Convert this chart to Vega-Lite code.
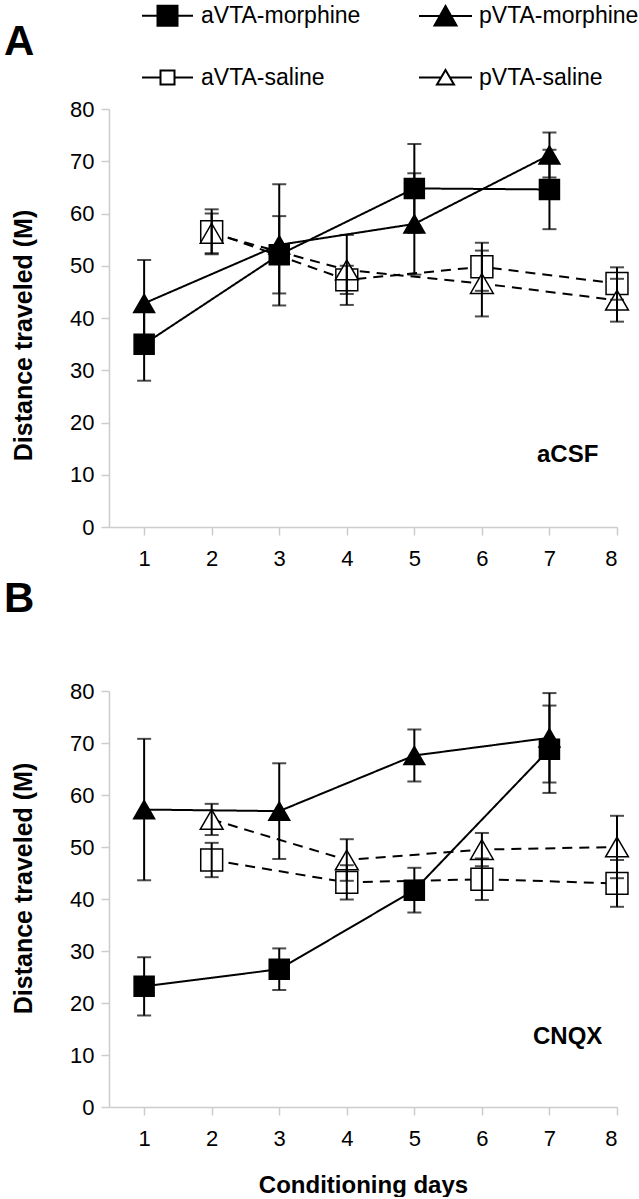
{
  "$schema": "https://vega.github.io/schema/vega-lite/v6.json",
  "background": "white",
  "padding": {"left": 4, "top": 4, "right": 0, "bottom": 0},
  "config": {
    "font": "Liberation Sans",
    "view": {"stroke": null},
    "axis": {
      "grid": false,
      "domainColor": "#cccccc",
      "domainWidth": 1.5,
      "tickColor": "#cccccc",
      "tickWidth": 1.5,
      "tickSize": 8,
      "labelFont": "Liberation Sans",
      "labelFontSize": 22,
      "labelColor": "black",
      "titleFont": "Liberation Sans",
      "titleFontWeight": "bold",
      "titleColor": "black"
    },
    "axisX": {"labelPadding": 13, "titleFontSize": 24, "titlePadding": 24, "format": "d"},
    "axisY": {"labelPadding": 7, "titleFontSize": 25, "titlePadding": 33},
    "legend": {"orient": "none", "legendX": 47, "legendY": -105, "columns": 2, "title": null, "labelFont": "Liberation Sans", "labelFontSize": 23, "labelColor": "black", "labelOffset": 22, "columnPadding": 54, "rowPadding": 36, "symbolStrokeColor": "black", "symbolStrokeWidth": 2, "symbolSize": 400, "symbolOpacity": 1, "labelLimit": 400},
    "title": {"font": "Liberation Sans", "fontSize": 42, "fontWeight": "bold", "color": "black", "anchor": "start", "frame": "group", "baseline": "alphabetic"}
  },
  "datasets": {
    "pts": [
      {"panel": "A", "series": "aVTA-morphine", "day": 1, "mean": 35.0, "err": 7.0},
      {"panel": "A", "series": "aVTA-morphine", "day": 3, "mean": 52.1, "err": 7.4},
      {"panel": "A", "series": "aVTA-morphine", "day": 5, "mean": 64.8, "err": 8.5},
      {"panel": "A", "series": "aVTA-morphine", "day": 7, "mean": 64.6, "err": 7.6},
      {"panel": "A", "series": "pVTA-morphine", "day": 1, "mean": 42.8, "err": 8.3},
      {"panel": "A", "series": "pVTA-morphine", "day": 3, "mean": 54.0, "err": 11.6},
      {"panel": "A", "series": "pVTA-morphine", "day": 5, "mean": 58.0, "err": 9.7},
      {"panel": "A", "series": "pVTA-morphine", "day": 7, "mean": 71.2, "err": 4.3},
      {"panel": "A", "series": "aVTA-saline", "day": 2, "mean": 56.5, "err": 4.3},
      {"panel": "A", "series": "aVTA-saline", "day": 4, "mean": 47.3, "err": 2.7},
      {"panel": "A", "series": "aVTA-saline", "day": 6, "mean": 49.8, "err": 4.6},
      {"panel": "A", "series": "aVTA-saline", "day": 8, "mean": 46.6, "err": 3.1},
      {"panel": "A", "series": "pVTA-saline", "day": 2, "mean": 56.2, "err": 3.8},
      {"panel": "A", "series": "pVTA-saline", "day": 4, "mean": 49.2, "err": 6.7},
      {"panel": "A", "series": "pVTA-saline", "day": 6, "mean": 46.6, "err": 6.3},
      {"panel": "A", "series": "pVTA-saline", "day": 8, "mean": 43.4, "err": 4.1},
      {"panel": "B", "series": "aVTA-morphine", "day": 1, "mean": 23.2, "err": 5.6},
      {"panel": "B", "series": "aVTA-morphine", "day": 3, "mean": 26.5, "err": 4.0},
      {"panel": "B", "series": "aVTA-morphine", "day": 5, "mean": 41.7, "err": 4.3},
      {"panel": "B", "series": "aVTA-morphine", "day": 7, "mean": 68.8, "err": 8.4},
      {"panel": "B", "series": "pVTA-morphine", "day": 1, "mean": 57.2, "err": 13.6},
      {"panel": "B", "series": "pVTA-morphine", "day": 3, "mean": 56.9, "err": 9.2},
      {"panel": "B", "series": "pVTA-morphine", "day": 5, "mean": 67.6, "err": 5.0},
      {"panel": "B", "series": "pVTA-morphine", "day": 7, "mean": 71.0, "err": 8.6},
      {"panel": "B", "series": "aVTA-saline", "day": 2, "mean": 47.5, "err": 3.3},
      {"panel": "B", "series": "aVTA-saline", "day": 4, "mean": 43.2, "err": 3.3},
      {"panel": "B", "series": "aVTA-saline", "day": 6, "mean": 43.8, "err": 4.0},
      {"panel": "B", "series": "aVTA-saline", "day": 8, "mean": 43.0, "err": 4.5},
      {"panel": "B", "series": "pVTA-saline", "day": 2, "mean": 55.3, "err": 3.0},
      {"panel": "B", "series": "pVTA-saline", "day": 4, "mean": 47.5, "err": 4.0},
      {"panel": "B", "series": "pVTA-saline", "day": 6, "mean": 49.5, "err": 3.2},
      {"panel": "B", "series": "pVTA-saline", "day": 8, "mean": 50.0, "err": 6.0}
    ]
  },
  "spacing": 9,
  "resolve": {
    "scale": {"x": "independent", "y": "independent", "shape": "independent", "fill": "independent", "stroke": "independent", "size": "independent", "strokeDash": "independent"},
    "legend": {"shape": "independent", "fill": "independent", "stroke": "independent", "size": "independent", "strokeDash": "independent"}
  },
  "vconcat": [
    {
      "title": {"text": "A", "dx": -105, "offset": -60},
      "width": 508,
      "height": 418,
      "data": {"name": "pts"},
      "transform": [{"filter": "datum.panel === 'A'"}],
      "layer": [
        {
          "mark": {"type": "line", "color": "black", "strokeWidth": 2},
          "encoding": {
            "x": {"field": "day", "type": "quantitative", "scale": {"domain": [0.48, 8], "nice": false, "zero": false}, "axis": {"values": [1, 2, 3, 4, 5, 6, 7, 8], "title": null}},
            "y": {"field": "mean", "type": "quantitative", "scale": {"domain": [0, 80], "nice": false}, "axis": {"values": [0, 10, 20, 30, 40, 50, 60, 70, 80], "title": "Distance traveled (M)", "titleY": 226}},
            "detail": {"field": "series", "type": "nominal"},
            "strokeDash": {"field": "series", "type": "nominal", "scale": {"domain": ["aVTA-morphine", "pVTA-morphine", "aVTA-saline", "pVTA-saline"], "range": [[1, 0], [1, 0], [10, 7], [10, 7]]}, "legend": null}
          }
        },
        {
          "mark": {"type": "point", "filled": true, "stroke": "black", "strokeWidth": 1.5, "opacity": 1},
          "encoding": {
            "x": {"field": "day", "type": "quantitative"},
            "y": {"field": "mean", "type": "quantitative", "title": "Distance traveled (M)"},
            "shape": {"field": "series", "type": "nominal", "scale": {"domain": ["aVTA-morphine", "pVTA-morphine", "aVTA-saline", "pVTA-saline"], "range": ["square", "triangle-up", "square", "triangle-up"]}, "legend": null},
            "fill": {"field": "series", "type": "nominal", "scale": {"domain": ["aVTA-morphine", "pVTA-morphine", "aVTA-saline", "pVTA-saline"], "range": ["black", "black", "white", "white"]}, "legend": null},
            "size": {"field": "series", "type": "nominal", "scale": {"domain": ["aVTA-morphine", "pVTA-morphine", "aVTA-saline", "pVTA-saline"], "range": [400, 520, 270, 270]}, "legend": null}
          }
        },
        {
          "mark": {"type": "errorbar", "color": "black", "thickness": 2, "ticks": {"size": 14, "thickness": 2, "color": "black"}},
          "encoding": {
            "x": {"field": "day", "type": "quantitative"},
            "y": {"field": "mean", "type": "quantitative", "title": "Distance traveled (M)"},
            "yError": {"field": "err"}
          }
        },
        {
          "mark": {"type": "point", "filled": true, "opacity": 0, "size": 400, "strokeWidth": 2},
          "encoding": {
            "x": {"field": "day", "type": "quantitative"},
            "y": {"field": "mean", "type": "quantitative", "title": "Distance traveled (M)"},
            "shape": {
              "field": "series", "type": "nominal",
              "scale": {"domain": ["aVTA-morphine", "aVTA-saline", "pVTA-morphine", "pVTA-saline"],
                        "range": ["M-2.55,0H2.55M-1,-1H1V1H-1Z", "M-2.55,0H-0.7M0.7,0H2.55M-0.7,-0.7H0.7V0.7H-0.7Z", "M-2.65,0H2.65M0,-1L1.1,0.95H-1.1Z", "M-2.65,0H-0.44M0.44,0H2.65M0,-0.75L0.85,0.7H-0.85Z"]},
              "legend": {}
            },
            "fill": {
              "field": "series", "type": "nominal",
              "scale": {"domain": ["aVTA-morphine", "aVTA-saline", "pVTA-morphine", "pVTA-saline"], "range": ["black", "white", "black", "white"]},
              "legend": {}
            },
            "stroke": {
              "field": "series", "type": "nominal",
              "scale": {"domain": ["aVTA-morphine", "aVTA-saline", "pVTA-morphine", "pVTA-saline"], "range": ["black", "black", "black", "black"]},
              "legend": {}
            }
          }
        },
        {
          "data": {"values": [{"note": "aCSF"}]},
          "mark": {"type": "text", "fontWeight": "bold", "fontSize": 24, "color": "black"},
          "encoding": {
            "x": {"datum": 7.27, "type": "quantitative"},
            "y": {"datum": 13.8, "type": "quantitative"},
            "text": {"field": "note"}
          }
        }
      ],
      "resolve": {
        "scale": {"shape": "independent", "fill": "independent", "stroke": "independent", "size": "independent", "strokeDash": "independent"},
        "legend": {"shape": "independent", "fill": "independent", "stroke": "independent", "size": "independent", "strokeDash": "independent"}
      }
    },
    {
      "title": {"text": "B", "dx": -105, "offset": 59},
      "width": 508,
      "height": 416,
      "data": {"name": "pts"},
      "transform": [{"filter": "datum.panel === 'B'"}],
      "layer": [
        {
          "mark": {"type": "line", "color": "black", "strokeWidth": 2},
          "encoding": {
            "x": {"field": "day", "type": "quantitative", "scale": {"domain": [0.48, 8], "nice": false, "zero": false}, "axis": {"values": [1, 2, 3, 4, 5, 6, 7, 8], "title": "Conditioning days"}},
            "y": {"field": "mean", "type": "quantitative", "scale": {"domain": [0, 80], "nice": false}, "axis": {"values": [0, 10, 20, 30, 40, 50, 60, 70, 80], "title": "Distance traveled (M)", "titleY": 197}},
            "detail": {"field": "series", "type": "nominal"},
            "strokeDash": {"field": "series", "type": "nominal", "scale": {"domain": ["aVTA-morphine", "pVTA-morphine", "aVTA-saline", "pVTA-saline"], "range": [[1, 0], [1, 0], [10, 7], [10, 7]]}, "legend": null}
          }
        },
        {
          "mark": {"type": "point", "filled": true, "stroke": "black", "strokeWidth": 1.5, "opacity": 1},
          "encoding": {
            "x": {"field": "day", "type": "quantitative", "title": "Conditioning days"},
            "y": {"field": "mean", "type": "quantitative", "title": "Distance traveled (M)"},
            "shape": {"field": "series", "type": "nominal", "scale": {"domain": ["aVTA-morphine", "pVTA-morphine", "aVTA-saline", "pVTA-saline"], "range": ["square", "triangle-up", "square", "triangle-up"]}, "legend": null},
            "fill": {"field": "series", "type": "nominal", "scale": {"domain": ["aVTA-morphine", "pVTA-morphine", "aVTA-saline", "pVTA-saline"], "range": ["black", "black", "white", "white"]}, "legend": null},
            "size": {"field": "series", "type": "nominal", "scale": {"domain": ["aVTA-morphine", "pVTA-morphine", "aVTA-saline", "pVTA-saline"], "range": [400, 520, 270, 270]}, "legend": null}
          }
        },
        {
          "mark": {"type": "errorbar", "color": "black", "thickness": 2, "ticks": {"size": 14, "thickness": 2, "color": "black"}},
          "encoding": {
            "x": {"field": "day", "type": "quantitative", "title": "Conditioning days"},
            "y": {"field": "mean", "type": "quantitative", "title": "Distance traveled (M)"},
            "yError": {"field": "err"}
          }
        },
        {
          "data": {"values": [{"note": "CNQX"}]},
          "mark": {"type": "text", "fontWeight": "bold", "fontSize": 24, "color": "black"},
          "encoding": {
            "x": {"datum": 7.27, "type": "quantitative"},
            "y": {"datum": 13.5, "type": "quantitative"},
            "text": {"field": "note"}
          }
        }
      ],
      "resolve": {
        "scale": {"shape": "independent", "fill": "independent", "size": "independent", "strokeDash": "independent"},
        "legend": {"shape": "independent", "fill": "independent", "size": "independent", "strokeDash": "independent"}
      }
    }
  ]
}
